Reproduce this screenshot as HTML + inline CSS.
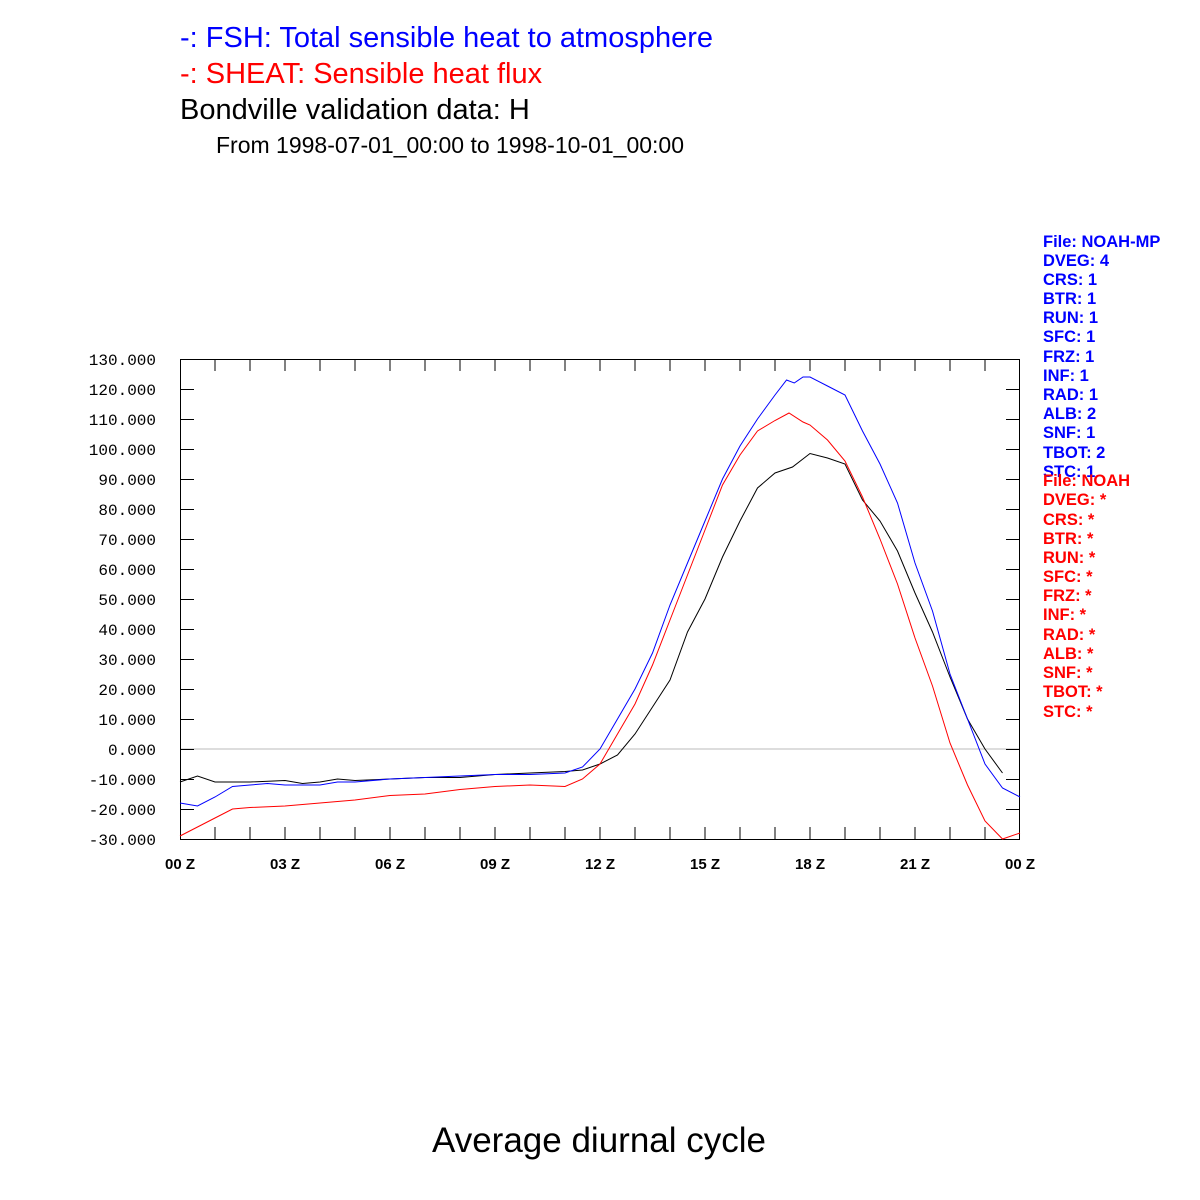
<!DOCTYPE html>
<html><head><meta charset="utf-8"><style>
body{margin:0;background:#fff;}
svg{display:block;font-family:"Liberation Sans",sans-serif;}
</style></head><body>
<svg width="1200" height="1200" viewBox="0 0 1200 1200">
<rect width="1200" height="1200" fill="#fff"/>
<text x="180" y="47" font-size="29" fill="#00f">-: FSH: Total sensible heat to atmosphere</text>
<text x="180" y="83" font-size="29" fill="#f00">-: SHEAT: Sensible heat flux</text>
<text x="180" y="119" font-size="29" fill="#000">Bondville validation data: H</text>
<text x="216" y="153" font-size="23" fill="#000">From 1998-07-01_00:00 to 1998-10-01_00:00</text>
<text x="599" y="1152" font-size="35" text-anchor="middle" fill="#000">Average diurnal cycle</text>

<g font-size="16.5" font-weight="bold" fill="#00f">
<text x="1043" y="247">File: NOAH-MP</text><text x="1043" y="266">DVEG: 4</text><text x="1043" y="285">CRS: 1</text><text x="1043" y="304">BTR: 1</text><text x="1043" y="323">RUN: 1</text><text x="1043" y="342">SFC: 1</text><text x="1043" y="362">FRZ: 1</text><text x="1043" y="381">INF: 1</text><text x="1043" y="400">RAD: 1</text><text x="1043" y="419">ALB: 2</text><text x="1043" y="438">SNF: 1</text><text x="1043" y="458">TBOT: 2</text><text x="1043" y="477">STC: 1</text>
</g>
<g font-size="16.5" font-weight="bold" fill="#f00">
<text x="1043" y="486">File: NOAH</text><text x="1043" y="505">DVEG: *</text><text x="1043" y="525">CRS: *</text><text x="1043" y="544">BTR: *</text><text x="1043" y="563">RUN: *</text><text x="1043" y="582">SFC: *</text><text x="1043" y="601">FRZ: *</text><text x="1043" y="620">INF: *</text><text x="1043" y="640">RAD: *</text><text x="1043" y="659">ALB: *</text><text x="1043" y="678">SNF: *</text><text x="1043" y="697">TBOT: *</text><text x="1043" y="717">STC: *</text>
</g>

<g font-family="Liberation Mono,monospace" font-size="16" text-anchor="end" fill="#000">
<text x="156" y="365">130.000</text><text x="156" y="395">120.000</text><text x="156" y="425">110.000</text><text x="156" y="455">100.000</text><text x="156" y="485">90.000</text><text x="156" y="515">80.000</text><text x="156" y="545">70.000</text><text x="156" y="575">60.000</text><text x="156" y="605">50.000</text><text x="156" y="635">40.000</text><text x="156" y="665">30.000</text><text x="156" y="695">20.000</text><text x="156" y="725">10.000</text><text x="156" y="755">0.000</text><text x="156" y="785">-10.000</text><text x="156" y="815">-20.000</text><text x="156" y="845">-30.000</text>
</g>
<g font-size="15" font-weight="bold" text-anchor="middle" fill="#000">
<text x="180" y="869">00 Z</text><text x="285" y="869">03 Z</text><text x="390" y="869">06 Z</text><text x="495" y="869">09 Z</text><text x="600" y="869">12 Z</text><text x="705" y="869">15 Z</text><text x="810" y="869">18 Z</text><text x="915" y="869">21 Z</text><text x="1020" y="869">00 Z</text>
</g>

<line x1="180" y1="749" x2="1020" y2="749" stroke="#bbb" stroke-width="1"/>
<rect x="180.5" y="359.5" width="839" height="480" fill="none" stroke="#000" stroke-width="1"/>
<g stroke="#000" stroke-width="1">
<path d="M215 359v12M250 359v12M285 359v12M320 359v12M355 359v12M390 359v12M425 359v12M460 359v12M495 359v12M530 359v12M565 359v12M600 359v12M635 359v12M670 359v12M705 359v12M740 359v12M775 359v12M810 359v12M845 359v12M880 359v12M915 359v12M950 359v12M985 359v12"/>
<path d="M215 839v-12M250 839v-12M285 839v-12M320 839v-12M355 839v-12M390 839v-12M425 839v-12M460 839v-12M495 839v-12M530 839v-12M565 839v-12M600 839v-12M635 839v-12M670 839v-12M705 839v-12M740 839v-12M775 839v-12M810 839v-12M845 839v-12M880 839v-12M915 839v-12M950 839v-12M985 839v-12"/>
<path d="M180 389.5h14M180 419.5h14M180 449.5h14M180 479.5h14M180 509.5h14M180 539.5h14M180 569.5h14M180 599.5h14M180 629.5h14M180 659.5h14M180 689.5h14M180 719.5h14M180 749.5h14M180 779.5h14M180 809.5h14"/>
<path d="M1020 389.5h-14M1020 419.5h-14M1020 449.5h-14M1020 479.5h-14M1020 509.5h-14M1020 539.5h-14M1020 569.5h-14M1020 599.5h-14M1020 629.5h-14M1020 659.5h-14M1020 689.5h-14M1020 719.5h-14M1020 749.5h-14M1020 779.5h-14M1020 809.5h-14"/>
</g>

<g transform="translate(180,749) scale(35,-3)" fill="none">
<polyline vector-effect="non-scaling-stroke" stroke="#000" stroke-width="1" points="0,-11 0.5,-9 1,-11 2,-11 3,-10.5 3.5,-11.5 4,-11 4.5,-10 5,-10.5 6,-10 7,-9.5 8,-9.5 9,-8.5 10,-8 11,-7.5 11.5,-7 12,-5 12.5,-2 13,5 13.5,14 14,23 14.5,39 15,50 15.5,64 16,76 16.5,87 17,92 17.5,94 18,98.5 18.5,97 19,95 19.5,83 20,76 20.5,66 21,52 21.5,39 22,24 22.5,10 23,0 23.5,-8"/>
<polyline vector-effect="non-scaling-stroke" stroke="#00f" stroke-width="1" points="0,-18 0.5,-19 1,-16 1.5,-12.5 2,-12 2.5,-11.5 3,-12 4,-12 4.5,-11 5,-11 6,-10 7,-9.5 8,-9 9,-8.5 10,-8.5 11,-8 11.5,-6 12,0 12.5,10 13,20 13.5,32 14,48 14.5,62 15,76 15.5,90 16,101 16.5,110 17,118 17.33,123 17.55,122 17.8,124 18,124 18.5,121 19,118 19.5,106 20,95 20.5,82 21,62 21.5,46 22,25 22.5,10 23,-5 23.5,-13 24,-16"/>
<polyline vector-effect="non-scaling-stroke" stroke="#f00" stroke-width="1" points="0,-29 0.5,-26 1,-23 1.5,-20 2,-19.5 3,-19 4,-18 5,-17 6,-15.5 7,-15 8,-13.5 9,-12.5 10,-12 11,-12.5 11.5,-10 12,-5 12.5,5 13,15 13.5,28 14,43 14.5,58 15,73 15.5,88 16,98 16.5,106 17,109.5 17.4,112 17.8,109 18,108 18.5,103 19,96 19.5,84 20,70 20.5,55 21,37 21.5,21 22,2 22.5,-12 23,-24 23.5,-30 24,-28"/>
</g>
</svg>
</body></html>
